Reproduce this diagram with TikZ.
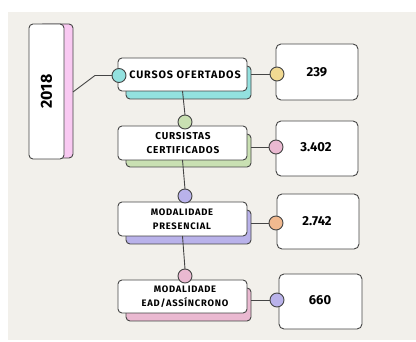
\documentclass[tikz,border=0pt]{standalone}
\usepackage{fontspec}
\setmainfont{Fira Sans}
\newfontfamily\lblfont[LetterSpace=8]{Fira Sans}
\definecolor{bgc}{HTML}{F2F0EB}
\definecolor{linec}{HTML}{454545}
\definecolor{cyanc}{HTML}{93E1DF}
\definecolor{greenc}{HTML}{C9E0B2}
\definecolor{purplec}{HTML}{B9B2EA}
\definecolor{pinkc}{HTML}{EAB9D1}
\definecolor{yearpink}{HTML}{F9C9F2}
\definecolor{yellowc}{HTML}{F1D992}
\definecolor{orangec}{HTML}{F1B98F}
\begin{document}
\begin{tikzpicture}[x=1pt,y=-1pt,
  every node/.style={inner sep=0pt, outer sep=0pt},
  box/.style={draw=linec, line width=0.9pt, rounded corners=4pt, anchor=north west, align=center},
  wbox/.style={box, fill=white},
  vbox/.style={draw=linec, line width=0.9pt, rounded corners=5pt, anchor=north west, fill=white},
  dot/.style={circle, draw=linec, line width=0.9pt, minimum size=14pt},
  conn/.style={draw=linec, line width=0.9pt},
  numtxt/.style={font=\bfseries\fontsize{13}{14}\selectfont}]
\useasboundingbox (0,0) rectangle (416,342);
\fill[bgc] (8,12) rectangle (416,340);
% year
\node[box, fill=yearpink, minimum width=34pt, minimum height=134pt] (ys) at (39,24) {};
\node[wbox, minimum width=35pt, minimum height=135pt] (y) at (29,24) {};
\node[rotate=90, font=\bfseries\fontsize{16}{18}\selectfont] (yt) at (y.center) {2018};
% shadows
\node[box, fill=cyanc, minimum width=125pt, minimum height=33pt] (s1) at (126,66) {};
\node[box, fill=greenc, minimum width=125pt, minimum height=33pt] (s2) at (126,134) {};
\node[box, fill=purplec, minimum width=125pt, minimum height=34pt] (s3) at (126,210) {};
\node[box, fill=pinkc, minimum width=125pt, minimum height=33pt] (s4) at (126,288) {};
% main boxes
\node[wbox, minimum width=129pt, minimum height=33pt] (b1) at (118,58) {};
\node[wbox, minimum width=129pt, minimum height=34pt] (b2) at (118,126) {};
\node[wbox, minimum width=129pt, minimum height=34pt] (b3) at (118,202) {};
\node[wbox, minimum width=129pt, minimum height=33pt] (b4) at (118,280) {};
\node[font=\lblfont\bfseries\fontsize{10.8}{12}\selectfont] (t1) at (185,74.5) {CURSOS OFERTADOS};
\node[font=\lblfont\bfseries\fontsize{10}{14}\selectfont, align=center] (t2) at (183,143.5) {CURSISTAS\\CERTIFICADOS};
\node[font=\lblfont\bfseries\fontsize{9.4}{14}\selectfont, align=center] (t3) at (182,219.5) {MODALIDADE\\PRESENCIAL};
\node[font=\lblfont\bfseries\fontsize{9.4}{14}\selectfont, align=center] (t4) at (185,297) {MODALIDADE\\EAD/ASSÍNCRONO};
% value boxes
\node[vbox, minimum width=82pt, minimum height=56pt] (v1) at (276,44) {};
\node[vbox, minimum width=82pt, minimum height=55pt] (v2) at (276,121) {};
\node[vbox, minimum width=82pt, minimum height=55pt] (v3) at (277,194) {};
\node[vbox, minimum width=83pt, minimum height=55pt] (v4) at (279,274) {};
\node[numtxt] (n1) at (317,72) {239};
\node[numtxt] (n2) at (316,147) {3.402};
\node[numtxt] (n3) at (317,221) {2.742};
\node[numtxt] (n4) at (320,300) {660};
% connector coordinates
\coordinate (k1) at (95,75.5);
\coordinate (ya) at (73,92);
% circles
\node[dot, fill=cyanc] (c1) at (119,75.5) {};
\node[dot, fill=greenc] (c2) at (185,122) {};
\node[dot, fill=purplec] (c3) at (185,196) {};
\node[dot, fill=pinkc] (c4) at (185,276) {};
\node[dot, fill=yellowc] (r1) at (277,74) {};
\node[dot, fill=pinkc] (r2) at (276,147) {};
\node[dot, fill=orangec] (r3) at (276,223) {};
\node[dot, fill=purplec] (r4) at (277,300) {};
% connectors
\draw[conn] (ya) -- (k1) -- (c1.west);
\draw[conn] (b1.south) -- (c2.north);
\draw[conn] (b2.south) -- (c3.north);
\draw[conn] (b3.south) -- (c4.north);
\draw[conn] (s1.east |- r1) -- (r1.west);
\draw[conn] (s2.east |- r2) -- (r2.west);
\draw[conn] (s3.east |- r3) -- (r3.west);
\draw[conn] (s4.east |- r4) -- (r4.west);
\end{tikzpicture}
\end{document}
